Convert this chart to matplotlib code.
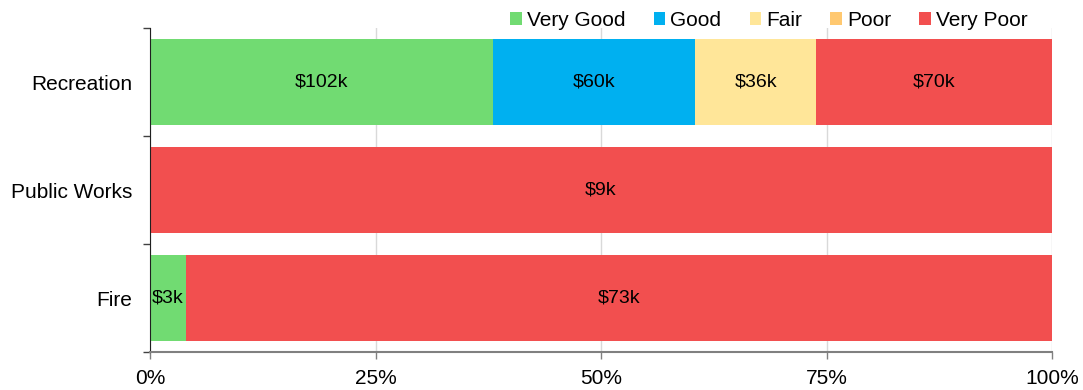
import matplotlib.pyplot as plt
import numpy as np

plt.rcParams['font.family'] = ['Liberation Sans', 'DejaVu Sans']

categories = ['Recreation', 'Public Works', 'Fire']
conditions = ['Very Good', 'Good', 'Fair', 'Poor', 'Very Poor']
colors = ['#71DB72', '#00B0F0', '#FFE699', '#FFC870', '#F24F4F']

# dollar values in $k per condition, one list per category
very_good = [102, 0, 3]
good = [60, 0, 0]
fair = [36, 0, 0]
poor = [0, 0, 0]
very_poor = [70, 9, 73]

values = np.array([very_good, good, fair, poor, very_poor], dtype=float)
totals = values.sum(axis=0)
shares = values / totals * 100

fig = plt.figure(figsize=(10.83, 3.9), dpi=100)
ax = fig.add_axes([0.1385, 0.0974, 0.8329, 0.8306])

y = np.arange(len(categories))[::-1]
left = np.zeros(len(categories))
for i, cond in enumerate(conditions):
    ax.barh(y, shares[i], left=left, height=0.8, color=colors[i],
            label=cond, zorder=2)
    for j in range(len(categories)):
        if values[i, j] > 0:
            ax.text(left[j] + shares[i, j] / 2, y[j], f'${values[i, j]:.0f}k',
                    ha='center', va='center', fontsize=14, color='black',
                    zorder=3)
    left += shares[i]

ax.set_xlim(0, 100)
ax.set_ylim(-0.5, len(categories) - 0.5)
ax.set_xticks([0, 25, 50, 75, 100])
ax.set_xticklabels(['0%', '25%', '50%', '75%', '100%'], fontsize=15)
ax.set_yticks(y)
ax.set_yticklabels(categories, fontsize=15)
ax.set_yticks(np.arange(-0.5, len(categories), 1), minor=True)
ax.tick_params(axis='y', which='major', length=0, pad=13)
ax.tick_params(axis='y', which='minor', length=5, color='#404040', width=1)
ax.tick_params(axis='x', length=5, color='#808080', width=1, pad=7)

ax.grid(axis='x', color='#D9D9D9', linewidth=1, zorder=0)
for side in ['top', 'right']:
    ax.spines[side].set_visible(False)
ax.spines['left'].set_color('#202020')
ax.spines['bottom'].set_color('#808080')
ax.spines['bottom'].set_linewidth(1.5)

fig.legend(loc='upper right', bbox_to_anchor=(0.966, 1.02), ncol=5,
           frameon=False, fontsize=15, handlelength=0.55, handleheight=0.55,
           handletextpad=0.25, columnspacing=1.35)

fig.savefig('out.png', dpi=100)
